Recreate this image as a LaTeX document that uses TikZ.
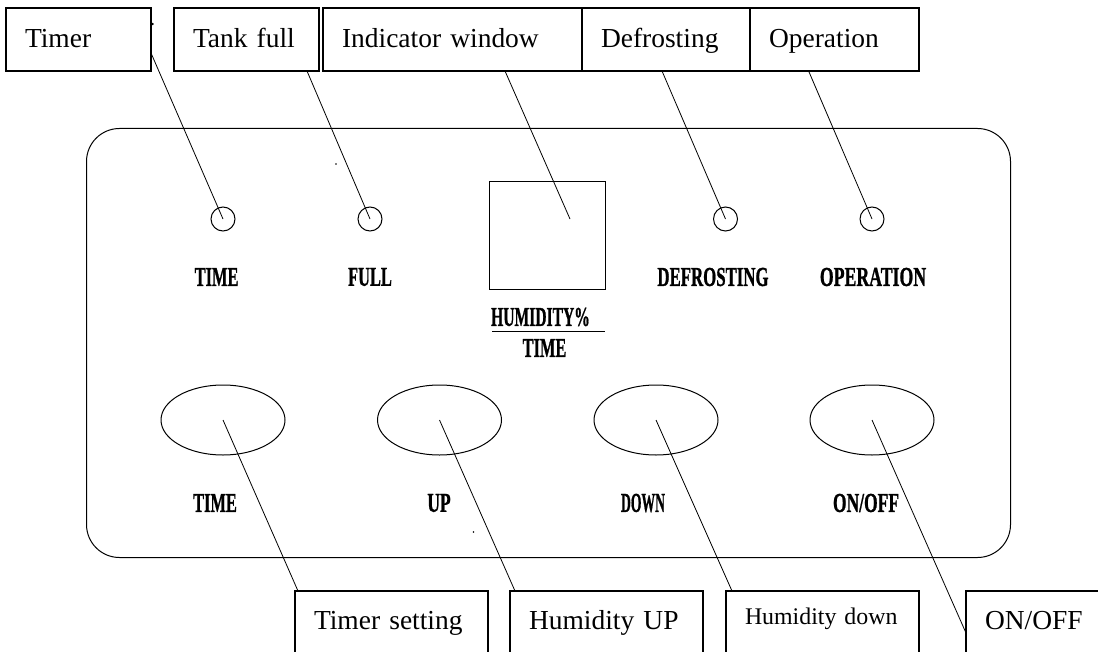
\documentclass[tikz,border=0pt]{standalone}
\usepackage{fontspec}
\setmainfont{Liberation Serif}
\newfontface\panelface[FakeBold=1.2]{Liberation Serif Bold}
\usetikzlibrary{shapes.geometric,calc}
\newcommand{\panellabel}[2]{\scalebox{#1}[1]{\fontsize{20.5pt}{22pt}\panelface #2}}
\tikzset{
  x=0.75pt,y=-0.75pt,
  callout/.style={draw,line width=1.5pt,inner xsep=14.25pt,inner ysep=0pt,outer sep=0pt,
    align=left,anchor=north west,font=\fontsize{20.6pt}{24pt}\selectfont,
    text height=30pt,text depth=17.25pt},
  calloutlow/.style={callout,text height=28.5pt,text depth=30pt},
  panelline/.style={draw,line width=0.75pt,outer sep=0pt,inner sep=0pt},
  led/.style={panelline,circle,minimum size=18pt},
  button/.style={panelline,ellipse,minimum width=93pt,minimum height=52.5pt},
  leader/.style={line width=0.6pt},
  panelcap/.style={inner sep=0pt}
}
\begin{document}
\begin{tikzpicture}
\clip (0,0) rectangle (1098,652);
\node[panelline,rounded corners=24.75pt,minimum width=693pt,minimum height=321.75pt] (panel) at (548.5,343) {};
\node[led] (ledtime) at (223,219) {};
\node[led] (ledfull) at (370,219) {};
\node[led] (leddef) at (725.5,219) {};
\node[led] (ledop) at (872,219) {};
\node[panelline,minimum width=87pt,minimum height=81pt] (window) at (547.5,235.5) {};
\node[button] (btntime) at (223,420) {};
\node[button] (btnup) at (439.5,420) {};
\node[button] (btndown) at (656,420) {};
\node[button] (btnon) at (872,420) {};
\node[panelcap] (t1) at (216.6,277) {\panellabel{.6}{TIME}};
\node[panelcap] (t2) at (370,277) {\panellabel{.6}{FULL}};
\node[panelcap] (t3) at (713,277) {\panellabel{.615}{DEFROSTING}};
\node[panelcap] (t4) at (873,277) {\panellabel{.65}{OPERATION}};
\node[panelcap] (t5) at (540.5,317) {\panellabel{.57}{HUMIDITY\%}};
\node[panelcap] (t6) at (544.5,348) {\panellabel{.6}{TIME}};
\node[panelcap] (t7) at (215,503) {\panellabel{.6}{TIME}};
\node[panelcap] (t8) at (439,503) {\panellabel{.64}{UP}};
\node[panelcap] (t9) at (643,503) {\panellabel{.5}{DOWN}};
\node[panelcap] (t10) at (866,503) {\panellabel{.64}{ON/OFF}};
\coordinate (fracl) at (492,331.5);
\coordinate (fracr) at (605,331.5);
\draw[line width=0.75pt] (fracl) -- (fracr);
\node[callout,text width=80.25pt] (timer) at (6,8) {Timer};
\node[callout,text width=80.25pt] (tank) at (174,8) {Tank full};
\node[callout,text width=165.75pt] (indicator) at (323,8) {Indicator window};
\node[callout,text width=97.5pt] (defrost) at (582,8) {Defrosting};
\node[callout,text width=98.25pt] (operation) at (750,8) {Operation};
\node[calloutlow,text width=116.25pt] (tset) at (295,591) {Timer setting};
\node[calloutlow,text width=116.25pt] (hup) at (510,591) {Humidity UP};
\node[calloutlow,text width=116.25pt,font=\fontsize{17.9pt}{22pt}\selectfont,text height=24.75pt,text depth=33.75pt] (hdown) at (726,591) {Humidity down};
\node[calloutlow,text width=90pt] (onoff) at (966,591) {ON/OFF};
\draw[leader] ($(timer.north east)+(0,45)$) -- (ledtime.center);
\draw[leader] ($(tank.south west)+(133,0)$) -- (ledfull.center);
\draw[leader] ($(indicator.south west)+(182,0)$) -- ($(window.center)+(22.5,-16.5)$);
\draw[leader] ($(defrost.south west)+(80,0)$) -- (leddef.center);
\draw[leader] ($(operation.south west)+(58.6,0)$) -- (ledop.center);
\draw[leader] (btntime.center) -- ($(tset.north west)+(3,0)$);
\draw[leader] (btnup.center) -- ($(hup.north west)+(5,0)$);
\draw[leader] (btndown.center) -- ($(hdown.north west)+(6,0)$);
\draw[leader] (btnon.center) -- ($(onoff.north west)+(0,42)$);
\fill (152.6,24) circle (1pt);
\fill (336,164) circle (0.6pt);
\fill (473.5,532) circle (0.6pt);
\end{tikzpicture}
\end{document}
